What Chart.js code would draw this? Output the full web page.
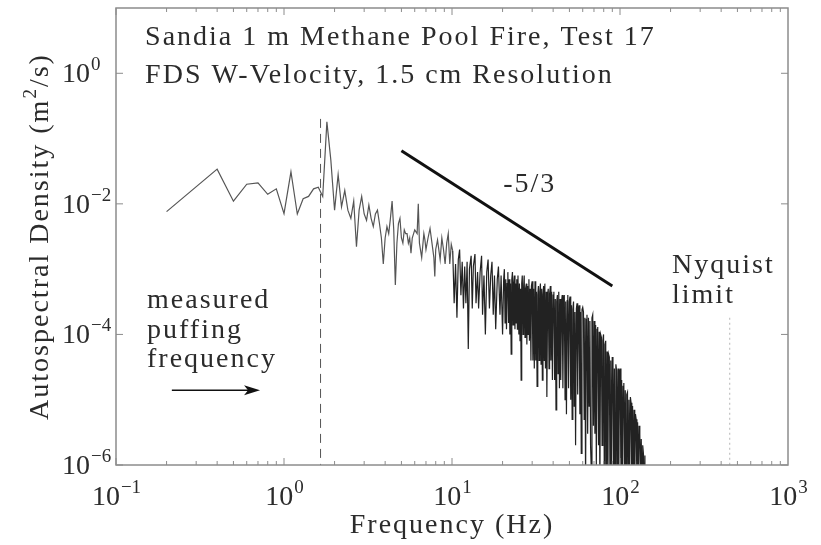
<!DOCTYPE html>
<html>
<head>
<meta charset="utf-8">
<script src="https://cdn.jsdelivr.net/npm/chart.js@4.4.1/dist/chart.umd.min.js"></script>
<style>
  html, body { margin: 0; padding: 0; background: #fff; }
  #wrap { width: 821px; height: 545px; }
</style>
</head>
<body>
<div id="wrap"><canvas id="psd"></canvas></div>
<script>
// spectrum (Hz, m^2/s)
const freq = [
  0.2,0.4,0.5,0.6,0.7,0.8,0.9,1.0,1.1,1.2,1.3,1.4,1.5,1.6,1.7,1.8,1.9,
  2.0,2.1,2.2,2.3,2.4,2.5,2.6,2.7,2.8,2.9,3.0,3.1,3.2,3.3,3.4,3.5,3.6,3.7,3.8,3.9,
  4.0,4.1,4.2,4.3,4.4,4.5,4.6,4.7,4.8,4.9,5.0,5.1,5.2,5.3,5.4,5.5,5.6,5.7,5.8,
  6.0,6.2,6.3,6.4,6.6,6.8,6.9,7.0,7.2,7.4,7.6,7.8,7.9,8.0,8.2,8.5,8.7,8.9,9.1,9.3,9.5,9.7,9.9,
  10.1,10.3,10.5,10.7,10.9,11.1,11.3,11.5,11.7,11.9,
  12.1,12.3,12.5,12.7,13.0,13.2,13.4,13.7,13.9,14.2,
  14.4,14.7,15.0,15.2,15.5,15.8,16.1,16.4,16.7,17.0,
  17.3,17.6,17.9,18.2,18.6,18.9,19.3,19.6,20.0,20.3,
  20.5,20.7,20.9,21.1,21.3,21.5,21.7,21.9,22.1,22.3,22.5,22.7,22.9,23.1,23.3,23.5,23.7,23.9,24.1,24.3,24.5,24.7,
  25.0,25.2,25.4,25.6,25.8,26.0,26.2,26.5,26.7,26.9,27.2,27.4,27.7,27.9,28.2,28.4,28.7,28.9,29.2,29.5,29.7,30.0,
  30.3,30.6,30.9,31.2,31.5,31.8,32.1,32.4,32.7,33.0,33.3,33.6,33.9,34.2,34.5,34.8,35.1,35.4,35.7,36.0,36.4,36.7,37.1,37.4,37.8,38.1,38.5,38.8,39.2,39.6,40.0,
  40.4,40.8,41.2,41.6,42.0,42.4,42.8,43.2,43.6,44.0,44.4,44.9,45.3,45.7,46.2,46.6,47.1,47.5,48.0,48.5,48.9,49.4,49.9,50.4,
  50.9,51.4,51.9,52.4,52.9,53.4,53.9,54.4,55.0,55.5,56.0,56.6,57.1,57.7,58.2,58.8,59.4,60.0,
  60.6,61.2,61.8,62.4,63.0,63.6,64.2,64.9,65.5,66.2,66.8,67.5,68.1,68.8,69.5,70.2,
  70.9,71.6,72.3,73.0,73.7,74.5,75.2,75.9,76.7,77.5,78.2,79.0,79.8,80.6,81.4,82.2,83.0,
  83.8,84.7,85.5,86.4,87.2,88.1,89.0,89.9,90.8,91.7,92.6,93.5,94.5,95.4,96.4,97.3,98.3,99.3,100.3,
  101.3,102.3,103.3,104.3,105.4,106.4,107.5,108.6,109.7,110.8,111.9,113.0,114.1,115.3,116.4,117.6,118.8,120.0,
  121.2,122.4,123.6,124.8,126.1,127.3,128.6,129.9,131.2,132.5,133.8,135.2,136.5,137.9,139.3,140.7
];
const psd = [
  7.6e-3,3.4e-2,1.1e-2,2.0e-2,2.1e-2,1.4e-2,1.7e-2,7.1e-3,3.1e-2,7.0e-3,1.2e-2,1.3e-2,1.7e-2,1.8e-2,1.3e-2,1.8e-1,4.7e-2,
  8.0e-3,2.8e-2,9e-3,1.6e-2,8e-3,6e-3,1.1e-2,2.2e-3,8e-3,1.3e-2,7e-3,5.6e-3,9.6e-3,6e-3,4.5e-3,7e-3,8e-3,5e-3,3e-3,1.2e-3,
  3e-3,4.5e-3,3.5e-3,6e-3,1.1e-2,4e-3,5.7e-4,2.5e-3,5e-3,6e-3,3e-3,2.5e-3,4e-3,3.5e-3,3.5e-3,2.5e-3,3e-3,1.75e-3,3e-3,
  4e-3,3.5e-3,1.0e-2,2.5e-3,1.5e-3,3.5e-3,2.8e-3,2e-3,3e-3,4.2e-3,2.5e-3,1.5e-3,7.7e-4,2e-3,2.8e-3,1.4e-3,3e-3,2e-3,1.2e-3,2.5e-3,3.5e-3,1.2e-3,2.4e-3,
  1.9e-3,3e-4,1.2e-3,1.8e-4,1.4e-3,2.0e-3,4e-4,1.3e-3,2.5e-4,1.1e-3,
  3e-4,1.3e-3,6e-5,1.0e-3,1.6e-3,2.5e-4,1.1e-3,1.7e-3,3e-4,9e-4,
  2.5e-4,9e-4,1.6e-3,2e-4,8e-4,1.0e-4,9e-4,1.4e-3,2.5e-4,8e-4,
  1.3e-3,2e-4,8e-4,1.2e-4,7e-4,1.1e-3,2e-4,8e-4,1e-4,7e-4,
  1.0e-3,1.5e-4,7e-4,1.2e-4,6e-4,9e-4,1.5e-4,7e-4,1e-4,6e-4,5e-5,7e-4,9e-4,1.4e-4,6e-4,8e-4,1.2e-4,6e-4,1.5e-4,7e-4,1.2e-4,8e-4,
  1e-4,6e-4,8e-5,5e-4,2e-5,6e-4,8e-4,1e-4,5.5e-4,8e-4,9e-5,5e-4,6e-4,7e-5,5.5e-4,1e-4,7e-4,8e-5,5e-4,4e-5,5.5e-4,6.5e-4,
  4e-5,5e-4,3e-5,6.5e-4,4e-5,4.5e-4,1.6e-5,4e-4,5.5e-4,4e-5,4.5e-4,6e-4,3.5e-5,5e-4,2e-5,4e-4,5.5e-4,4e-5,6e-4,3e-5,4.5e-4,1.1e-5,4e-4,5e-4,3e-5,4.2e-4,5.5e-4,4e-5,4.5e-4,2e-5,4e-4,
  4.5e-4,2e-5,3.5e-4,7e-6,3.2e-4,4e-4,2.5e-5,4.5e-4,1.5e-5,3.5e-4,2e-5,3.2e-4,4e-4,1.5e-5,3.4e-4,4e-4,1e-5,3.2e-4,6e-6,3.3e-4,4e-4,1.5e-5,3.2e-4,3.8e-4,
  1e-5,2.8e-4,5e-6,2.4e-4,3.2e-4,8e-6,2.2e-4,2e-6,2.5e-4,3e-4,1.2e-5,2.3e-4,2.8e-4,6e-6,2.2e-4,1.5e-6,2.4e-4,2.6e-4,
  2.2e-4,5e-6,1.8e-4,5e-7,1.7e-4,2e-4,3e-6,1.8e-4,8e-6,1.6e-4,2e-6,8e-7,1.8e-4,2e-4,4e-6,1.6e-4,
  3e-6,1.4e-4,1e-6,1.2e-4,1.3e-4,2e-6,1.1e-4,5e-7,1e-4,9e-5,2e-6,8e-5,1e-4,1e-6,7e-5,8e-5,6e-7,
  5.5e-5,5e-7,5e-5,4.5e-5,5e-7,4e-5,5e-7,4.5e-5,3.5e-5,5e-7,3e-5,5e-7,3.5e-5,2.8e-5,5e-7,3e-5,5e-7,2.5e-5,3e-5,
  5e-7,2e-5,5e-7,1.6e-5,1.8e-5,5e-7,1.4e-5,5e-7,1.2e-5,1.3e-5,5e-7,1e-5,5e-7,1.1e-5,9e-6,5e-7,8e-6,5e-7,
  7e-6,5e-7,6e-6,5e-6,5e-7,4.5e-6,5e-7,4e-6,3e-6,5e-7,2.5e-6,5e-7,2e-6,1.5e-6,5e-7,1.4e-6
];

// -5/3 reference slope, end points
const slopeFreq = [5, 90];
const slopePsd = [0.065, 5.5e-4];

// marker lines
const puffFreq = 1.65;
const puffRange = [0.2, 1e-6];
const nyquistFreq = 450;
const nyquistRange = [1.8e-4, 1e-6];

// tick labels (powers of ten)
const xExponents = [-1, 0, 1, 2, 3];
const yExponents = [-6, -4, -2, 0];

const FONT = '"Liberation Serif", "DejaVu Serif", serif';
const BIG = '28px ' + FONT;
const SMALL = '19px ' + FONT;
const INK = '#2b2b2b';

function sup(n) {
  return n < 0 ? '\u2212' + Math.abs(n) : String(n);
}

function powerLabel(ctx, x, y, exp, centred) {
  ctx.letterSpacing = '0px';
  ctx.font = BIG;
  const w1 = ctx.measureText('10').width;
  ctx.font = SMALL;
  const e = sup(exp);
  const w2 = ctx.measureText(e).width;
  const start = centred ? x - (w1 + w2) / 2 : x;
  ctx.textAlign = 'left';
  ctx.font = BIG;
  ctx.fillText('10', start, y);
  ctx.font = SMALL;
  ctx.fillText(e, start + w1 + 1, y - 12);
}

const frame = {
  id: 'frame',
  afterDatasetsDraw(chart) {
    const { ctx, chartArea: a, scales } = chart;
    const sx = scales.x, sy = scales.y;
    ctx.save();

    // box
    ctx.strokeStyle = '#8c8c8c';
    ctx.lineWidth = 1.5;
    ctx.strokeRect(a.left, a.top, a.right - a.left, a.bottom - a.top);

    // inward ticks
    ctx.lineWidth = 1;
    ctx.beginPath();
    for (let d = -1; d < 3; d++) {
      for (let m = 1; m < 10; m++) {
        const px = sx.getPixelForValue(m * Math.pow(10, d));
        const len = m === 1 ? 7 : 4;
        ctx.moveTo(px, a.bottom); ctx.lineTo(px, a.bottom - len);
        ctx.moveTo(px, a.top); ctx.lineTo(px, a.top + len);
      }
    }
    yExponents.forEach(e => {
      const py = sy.getPixelForValue(Math.pow(10, e));
      ctx.moveTo(a.left, py); ctx.lineTo(a.left + 7, py);
      ctx.moveTo(a.right, py); ctx.lineTo(a.right - 7, py);
    });
    ctx.stroke();

    // tick labels
    ctx.fillStyle = INK;
    ctx.textBaseline = 'alphabetic';
    xExponents.forEach(e => {
      powerLabel(ctx, sx.getPixelForValue(Math.pow(10, e)), a.bottom + 40, e, true);
    });
    yExponents.forEach(e => {
      powerLabel(ctx, a.left - 54, sy.getPixelForValue(Math.pow(10, e)) + 9, e, false);
    });

    ctx.letterSpacing = '2px';

    // axis titles
    ctx.font = BIG;
    ctx.textAlign = 'center';
    ctx.fillText('Frequency (Hz)', (a.left + a.right) / 2, a.bottom + 68);

    ctx.save();
    ctx.translate(a.left - 68, (a.top + a.bottom) / 2);
    ctx.rotate(-Math.PI / 2);
    const p1 = 'Autospectral Density (m', p2 = '2', p3 = '/s)';
    ctx.font = BIG;
    const w1 = ctx.measureText(p1).width, w3 = ctx.measureText(p3).width;
    ctx.font = SMALL;
    const w2 = ctx.measureText(p2).width;
    const x0 = -(w1 + w2 + w3) / 2;
    ctx.textAlign = 'left';
    ctx.font = BIG;
    ctx.fillText(p1, x0, 0);
    ctx.font = SMALL;
    ctx.fillText(p2, x0 + w1, -12);
    ctx.font = BIG;
    ctx.fillText(p3, x0 + w1 + w2, 0);
    ctx.restore();

    // annotations placed in data coordinates
    const at = (s, fx, fy, align) => {
      ctx.textAlign = align;
      ctx.fillText(s, sx.getPixelForValue(fx), sy.getPixelForValue(fy));
    };
    ctx.font = BIG;
    at('Sandia 1 m Methane Pool Fire, Test 17', 0.149, 2.7, 'left');
    at('FDS W-Velocity, 1.5 cm Resolution', 0.149, 0.71, 'left');
    at('-5/3', 29, 0.0152, 'center');
    at('Nyquist', 204, 8.7e-4, 'left');
    at('limit', 204, 3.0e-4, 'left');
    at('measured', 0.153, 2.5e-4, 'left');
    at('puffing', 0.153, 8.8e-5, 'left');
    at('frequency', 0.153, 3.2e-5, 'left');

    // arrow
    const ax0 = sx.getPixelForValue(0.215), ax1 = sx.getPixelForValue(0.72);
    const ay = sy.getPixelForValue(1.4e-5);
    ctx.strokeStyle = '#111';
    ctx.lineWidth = 1.5;
    ctx.beginPath();
    ctx.moveTo(ax0, ay); ctx.lineTo(ax1 - 10, ay);
    ctx.stroke();
    ctx.fillStyle = '#111';
    ctx.beginPath();
    ctx.moveTo(ax1, ay);
    ctx.lineTo(ax1 - 16, ay - 5);
    ctx.lineTo(ax1 - 12, ay);
    ctx.lineTo(ax1 - 16, ay + 5);
    ctx.closePath();
    ctx.fill();

    ctx.restore();
  }
};

const spectrum = freq.map((f, i) => ({ x: f, y: psd[i] }));

new Chart(document.getElementById('psd').getContext('2d'), {
  type: 'line',
  data: {
    datasets: [
      {
        data: spectrum,
        borderColor: '#222',
        borderWidth: 1.2,
        pointRadius: 0,
        tension: 0,
        // sparse low-frequency part looks lighter in the original
        segment: { borderColor: c => (c.p0.parsed.x < 10 ? '#555' : '#222') }
      },
      {
        data: slopeFreq.map((f, i) => ({ x: f, y: slopePsd[i] })),
        borderColor: '#111',
        borderWidth: 3,
        pointRadius: 0
      },
      {
        data: puffRange.map(v => ({ x: puffFreq, y: v })),
        borderColor: '#555',
        borderWidth: 1,
        borderDash: [9, 6],
        pointRadius: 0
      },
      {
        data: nyquistRange.map(v => ({ x: nyquistFreq, y: v })),
        borderColor: '#b5b5b5',
        borderWidth: 1,
        borderDash: [2, 3],
        pointRadius: 0
      }
    ]
  },
  options: {
    responsive: true,
    maintainAspectRatio: false,
    animation: false,
    layout: { padding: { left: 116, right: 33, top: 8, bottom: 80 } },
    plugins: { legend: { display: false }, tooltip: { enabled: false } },
    scales: {
      x: { type: 'logarithmic', min: 0.1, max: 1000, display: false },
      y: { type: 'logarithmic', min: 1e-6, max: 10, display: false }
    }
  },
  plugins: [frame]
});
</script>
</body>
</html>
